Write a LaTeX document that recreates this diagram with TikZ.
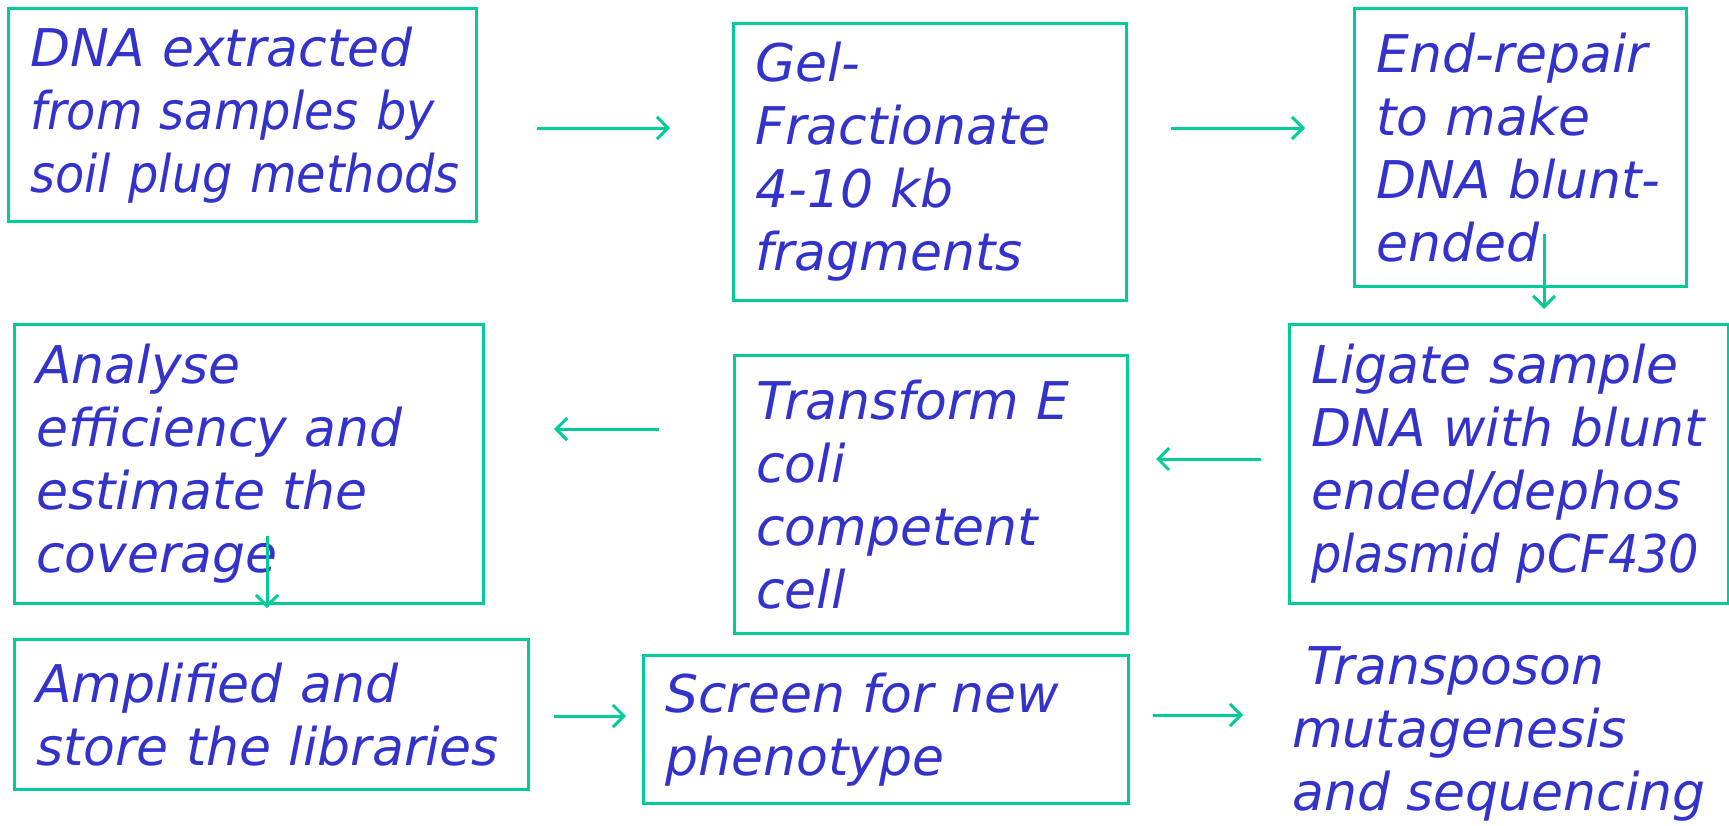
\documentclass[tikz,border=0pt]{standalone}
\usepackage{fontspec}
\newfontfamily\comic{DejaVu Sans Oblique}
\newfontfamily\comicn{DejaVu Sans Oblique}[FakeStretch=0.92]
\usetikzlibrary{arrows.meta}
\definecolor{txtblue}{HTML}{3333CC}
\definecolor{boxgreen}{HTML}{00CC99}
\begin{document}
\begin{tikzpicture}[x=1pt,y=-1pt,
  lbl/.style={inner xsep=22pt, inner ysep=0pt, align=left, text=txtblue,
    font=\comic\fontsize{52}{63}\selectfont},
  box/.style={lbl, draw=boxgreen, line width=2.5pt, anchor=north west},
  flow/.style={draw=boxgreen, line width=3pt,
    -{Straight Barb[length=11pt,width=22pt,line width=3pt]}}]
\useasboundingbox (0,0) rectangle (1729,825);

\node[box, minimum width=468pt, minimum height=213pt, text width=424pt] (b1) at (7,7)
  {\mbox{DNA extracted}\\\mbox{\comicn from samples by}\\\mbox{\comicn soil plug methods}};
\node[box, minimum width=393pt, minimum height=277pt, text width=349pt] (b2) at (732,22)
  {\mbox{Gel-}\\\mbox{Fractionate}\\\mbox{4-10 kb}\\\mbox{fragments}};
\node[box, minimum width=332pt, minimum height=278pt, text width=288pt] (b3) at (1353,7)
  {\mbox{End-repair}\\\mbox{to make}\\\mbox{DNA blunt-}\\\mbox{ended}};
\node[box, minimum width=439pt, minimum height=279pt, text width=395pt] (b4) at (1288,323)
  {\mbox{Ligate sample}\\\mbox{DNA with blunt}\\\mbox{ended/dephos}\\\mbox{\comicn plasmid pCF430}};
\node[box, minimum width=393pt, minimum height=278pt, text width=349pt] (b5) at (733,354)
  {\mbox{Transform E}\\\mbox{coli}\\\mbox{competent}\\\mbox{cell}};
\node[box, minimum width=469pt, minimum height=279pt, text width=425pt] (b6) at (13,323)
  {\mbox{Analyse}\\\mbox{efficiency and}\\\mbox{estimate the}\\\mbox{coverage}};
\node[box, minimum width=514pt, minimum height=150pt, text width=470pt] (b7) at (13,638)
  {\mbox{Amplified and}\\\mbox{store the libraries}};
\node[box, minimum width=485pt, minimum height=148pt, text width=441pt] (b8) at (642,654)
  {\mbox{Screen for new}\\\mbox{phenotype}};
\node[lbl, inner xsep=0pt, anchor=west] (b9) at (1292,734)
  {\hspace{14pt}Transposon\\mutagenesis\\and sequencing};

\coordinate (a1s) at (537,128); \coordinate (a1e) at (670,128);
\coordinate (a2s) at (1171,128); \coordinate (a2e) at (1305,128);
\coordinate (a3s) at (1544,234); \coordinate (a3e) at (1544,309);
\coordinate (a4s) at (1261,459); \coordinate (a4e) at (1156,459);
\coordinate (a5s) at (659,429); \coordinate (a5e) at (554,429);
\coordinate (a6s) at (267,536); \coordinate (a6e) at (267,608);
\coordinate (a7s) at (554,716); \coordinate (a7e) at (626,716);
\coordinate (a8s) at (1153,715); \coordinate (a8e) at (1243,715);

\draw[flow] (a1s) -- (a1e);
\draw[flow] (a2s) -- (a2e);
\draw[flow] (a3s) -- (a3e);
\draw[flow] (a4s) -- (a4e);
\draw[flow] (a5s) -- (a5e);
\draw[flow] (a6s) -- (a6e);
\draw[flow] (a7s) -- (a7e);
\draw[flow] (a8s) -- (a8e);
\end{tikzpicture}
\end{document}
